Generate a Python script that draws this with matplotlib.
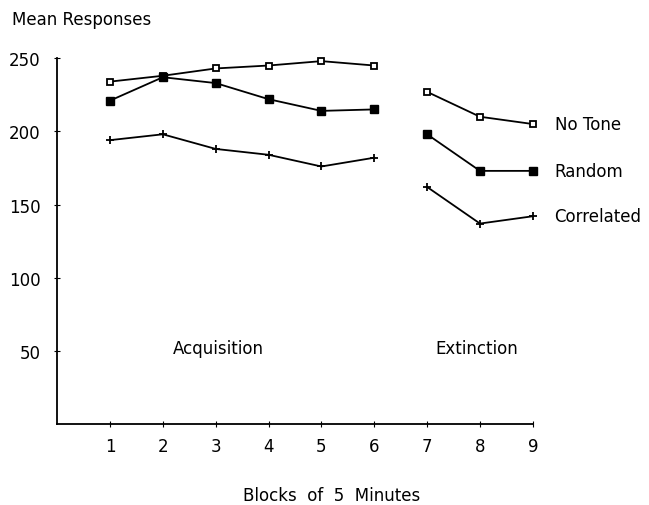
import matplotlib
matplotlib.use("Agg")
import matplotlib.pyplot as plt

blocks_acq = [1, 2, 3, 4, 5, 6]
blocks_ext = [7, 8, 9]
no_tone_acq = [234, 238, 243, 245, 248, 245]
no_tone_ext = [227, 210, 205]
random_acq = [221, 237, 233, 222, 214, 215]
random_ext = [198, 173, 173]
correlated_acq = [194, 198, 188, 184, 176, 182]
correlated_ext = [162, 137, 142]
x_ticks = [1, 2, 3, 4, 5, 6, 7, 8, 9]
y_ticks = [50, 100, 150, 200, 250]
series_names = ["No Tone", "Random", "Correlated"]

FS = 12
plt.rcParams['font.family'] = ['DejaVu Sans']
fig = plt.figure(figsize=(6.49, 5.06), dpi=100)
ax = fig.add_axes([0.088, 0.160, 0.733, 0.723])

styles = [dict(marker='s', mfc='white', mec='black', ms=5, mew=1.3),
          dict(marker='s', mfc='black', mec='black', ms=5.5),
          dict(marker='+', mec='black', ms=6, mew=1.3)]
acq = [no_tone_acq, random_acq, correlated_acq]
ext = [no_tone_ext, random_ext, correlated_ext]
for a, e, st, name in zip(acq, ext, styles, series_names):
    ax.plot(blocks_acq, a, color='black', lw=1.3, clip_on=False, **st)
    ax.plot(blocks_ext, e, color='black', lw=1.3, clip_on=False, **st)
    ax.text(9.41, e[-1], name, ha='left', va='center', fontsize=FS)

ax.set_xlim(0, 9)
ax.set_ylim(0, 250)
ax.set_xticks(x_ticks)
ax.set_xticklabels([str(t) for t in x_ticks], fontsize=FS)
ax.set_yticks(y_ticks)
ax.set_yticklabels([str(t) for t in y_ticks], fontsize=FS)
ax.tick_params(axis='x', direction='inout', length=4, pad=7)
ax.tick_params(axis='y', direction='inout', length=4, pad=10)
for s in ['top', 'right']:
    ax.spines[s].set_visible(False)
for s in ['left', 'bottom']:
    ax.spines[s].set_linewidth(1.3)

ax.text(3.06, 52, "Acquisition", ha='center', va='center', fontsize=FS)
ax.text(7.94, 52, "Extinction", ha='center', va='center', fontsize=FS)
fig.text(12/649, 1 - 20/506, "Mean Responses", ha='left', va='center', fontsize=FS)
fig.text(332/649, 1 - 496/506, "Blocks  of  5  Minutes", ha='center', va='center', fontsize=FS)

fig.savefig("out.png", dpi=100)
